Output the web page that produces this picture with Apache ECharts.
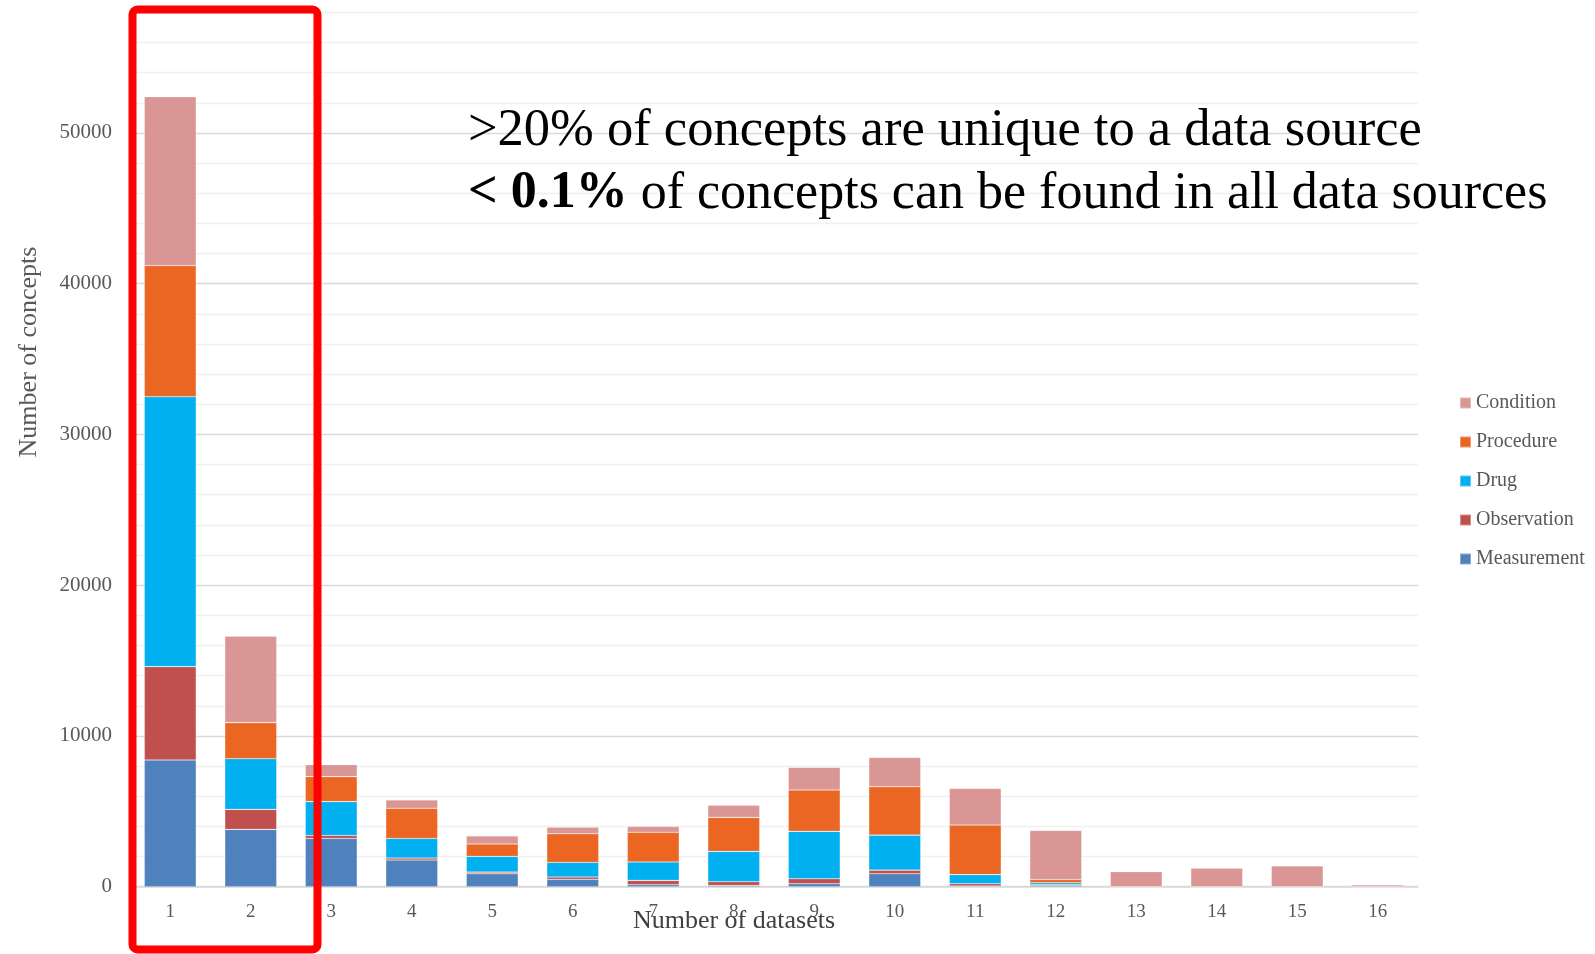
<!DOCTYPE html>
<html>
<head>
<meta charset="utf-8">
<script src="https://cdn.jsdelivr.net/npm/echarts@6/dist/echarts.min.js"></script>
<style>html,body{margin:0;padding:0;background:#fff;}#chart{width:1595px;height:954px;}</style>
</head>
<body>
<div id="chart"></div>
<script>
const categories = ['1','2','3','4','5','6','7','8','9','10','11','12','13','14','15','16'];
const measurement = [8400, 3800, 3200, 1770, 860, 490, 130, 70, 200, 860, 50, 60, 0, 0, 0, 0];
const observation = [6200, 1330, 200, 130, 110, 150, 290, 260, 330, 240, 150, 70, 0, 0, 0, 0];
const drug        = [17900, 3360, 2240, 1300, 1040, 970, 1220, 2010, 3140, 2320, 600, 130, 0, 0, 0, 0];
const procedure   = [8700, 2390, 1660, 2000, 820, 1900, 1970, 2260, 2740, 3210, 3290, 220, 0, 0, 0, 0];
const condition   = [11200, 5730, 800, 550, 530, 440, 380, 800, 1500, 1950, 2430, 3250, 1000, 1220, 1370, 110];
const yTickLabels = [0, 10000, 20000, 30000, 40000, 50000];

const colors = {
  Measurement: '#4F81BD',
  Observation: '#C0504D',
  Drug: '#00B0F0',
  Procedure: '#EB6623',
  Condition: '#D99694'
};
const seriesDefs = [
  ['Measurement', measurement],
  ['Observation', observation],
  ['Drug', drug],
  ['Procedure', procedure],
  ['Condition', condition]
];

const chart = echarts.init(document.getElementById('chart'));
const serifFont = '"Liberation Serif", "Times New Roman", serif';

chart.setOption({
  animation: false,
  backgroundColor: '#ffffff',
  grid: { left: 130, right: 177, top: 12.3, bottom: 67.3, containLabel: false },
  legend: {
    orient: 'vertical',
    left: 1454,
    top: 388,
    itemWidth: 11,
    itemHeight: 11,
    itemGap: 19,
    icon: 'rect',
    selectedMode: false,
    data: ['Condition', 'Procedure', 'Drug', 'Observation', 'Measurement'],
    textStyle: { fontFamily: serifFont, fontSize: 20, color: '#595959', lineHeight: 20 }
  },
  xAxis: {
    type: 'category',
    data: categories,
    boundaryGap: true,
    axisLine: { show: true, lineStyle: { color: '#d9d9d9', width: 1.5 } },
    axisTick: { show: false },
    axisLabel: { fontFamily: serifFont, fontSize: 19, color: '#595959', margin: 16 }
  },
  yAxis: {
    type: 'value',
    min: 0,
    max: 58000,
    interval: 2000,
    axisLine: { show: false },
    axisTick: { show: false },
    axisLabel: {
      fontFamily: serifFont, fontSize: 21, color: '#595959', margin: 18,
      formatter: function (v) { return yTickLabels.indexOf(v) >= 0 ? String(v) : ''; }
    },
    splitLine: {
      show: true,
      lineStyle: { color: ['#d9d9d9', '#f0f0f0', '#f0f0f0', '#f0f0f0', '#f0f0f0'], width: 1.3 }
    }
  },
  series: seriesDefs.map(function (d) {
    return {
      name: d[0],
      type: 'bar',
      stack: 'total',
      data: d[1],
      barWidth: '64.5%',
      itemStyle: { color: colors[d[0]], borderColor: 'rgba(255,255,255,0.35)', borderWidth: 0.6 }
    };
  }),
  graphic: [
    {
      type: 'text', x: 29, y: 352, rotation: Math.PI / 2, z: 10,
      style: { text: 'Number of concepts', fontFamily: serifFont, fontSize: 26, fill: '#595959', align: 'center', verticalAlign: 'middle' }
    },
    {
      type: 'text', x: 734, y: 921, z: 10,
      style: { text: 'Number of datasets', fontFamily: serifFont, fontSize: 26, fill: '#404040', align: 'center', verticalAlign: 'middle' }
    },
    {
      type: 'text', x: 468, y: 131, z: 10,
      style: { text: '>20% of concepts are unique to a data source', fontFamily: serifFont, fontSize: 52.5, fill: '#000', align: 'left', verticalAlign: 'middle' }
    },
    {
      type: 'text', x: 468, y: 194, z: 10,
      style: {
        text: '{b|< 0.1%} of concepts can be found in all data sources',
        fontFamily: serifFont, fontSize: 52, fill: '#000', align: 'left', verticalAlign: 'middle',
        rich: { b: { fontFamily: serifFont, fontSize: 52, fontWeight: 'bold', fill: '#000' } }
      }
    },
    {
      type: 'rect', z: 20,
      shape: { x: 132.5, y: 9.5, width: 185, height: 940, r: 5 },
      style: { fill: 'none', stroke: '#ff0000', lineWidth: 8 }
    }
  ]
});
</script>
</body>
</html>
